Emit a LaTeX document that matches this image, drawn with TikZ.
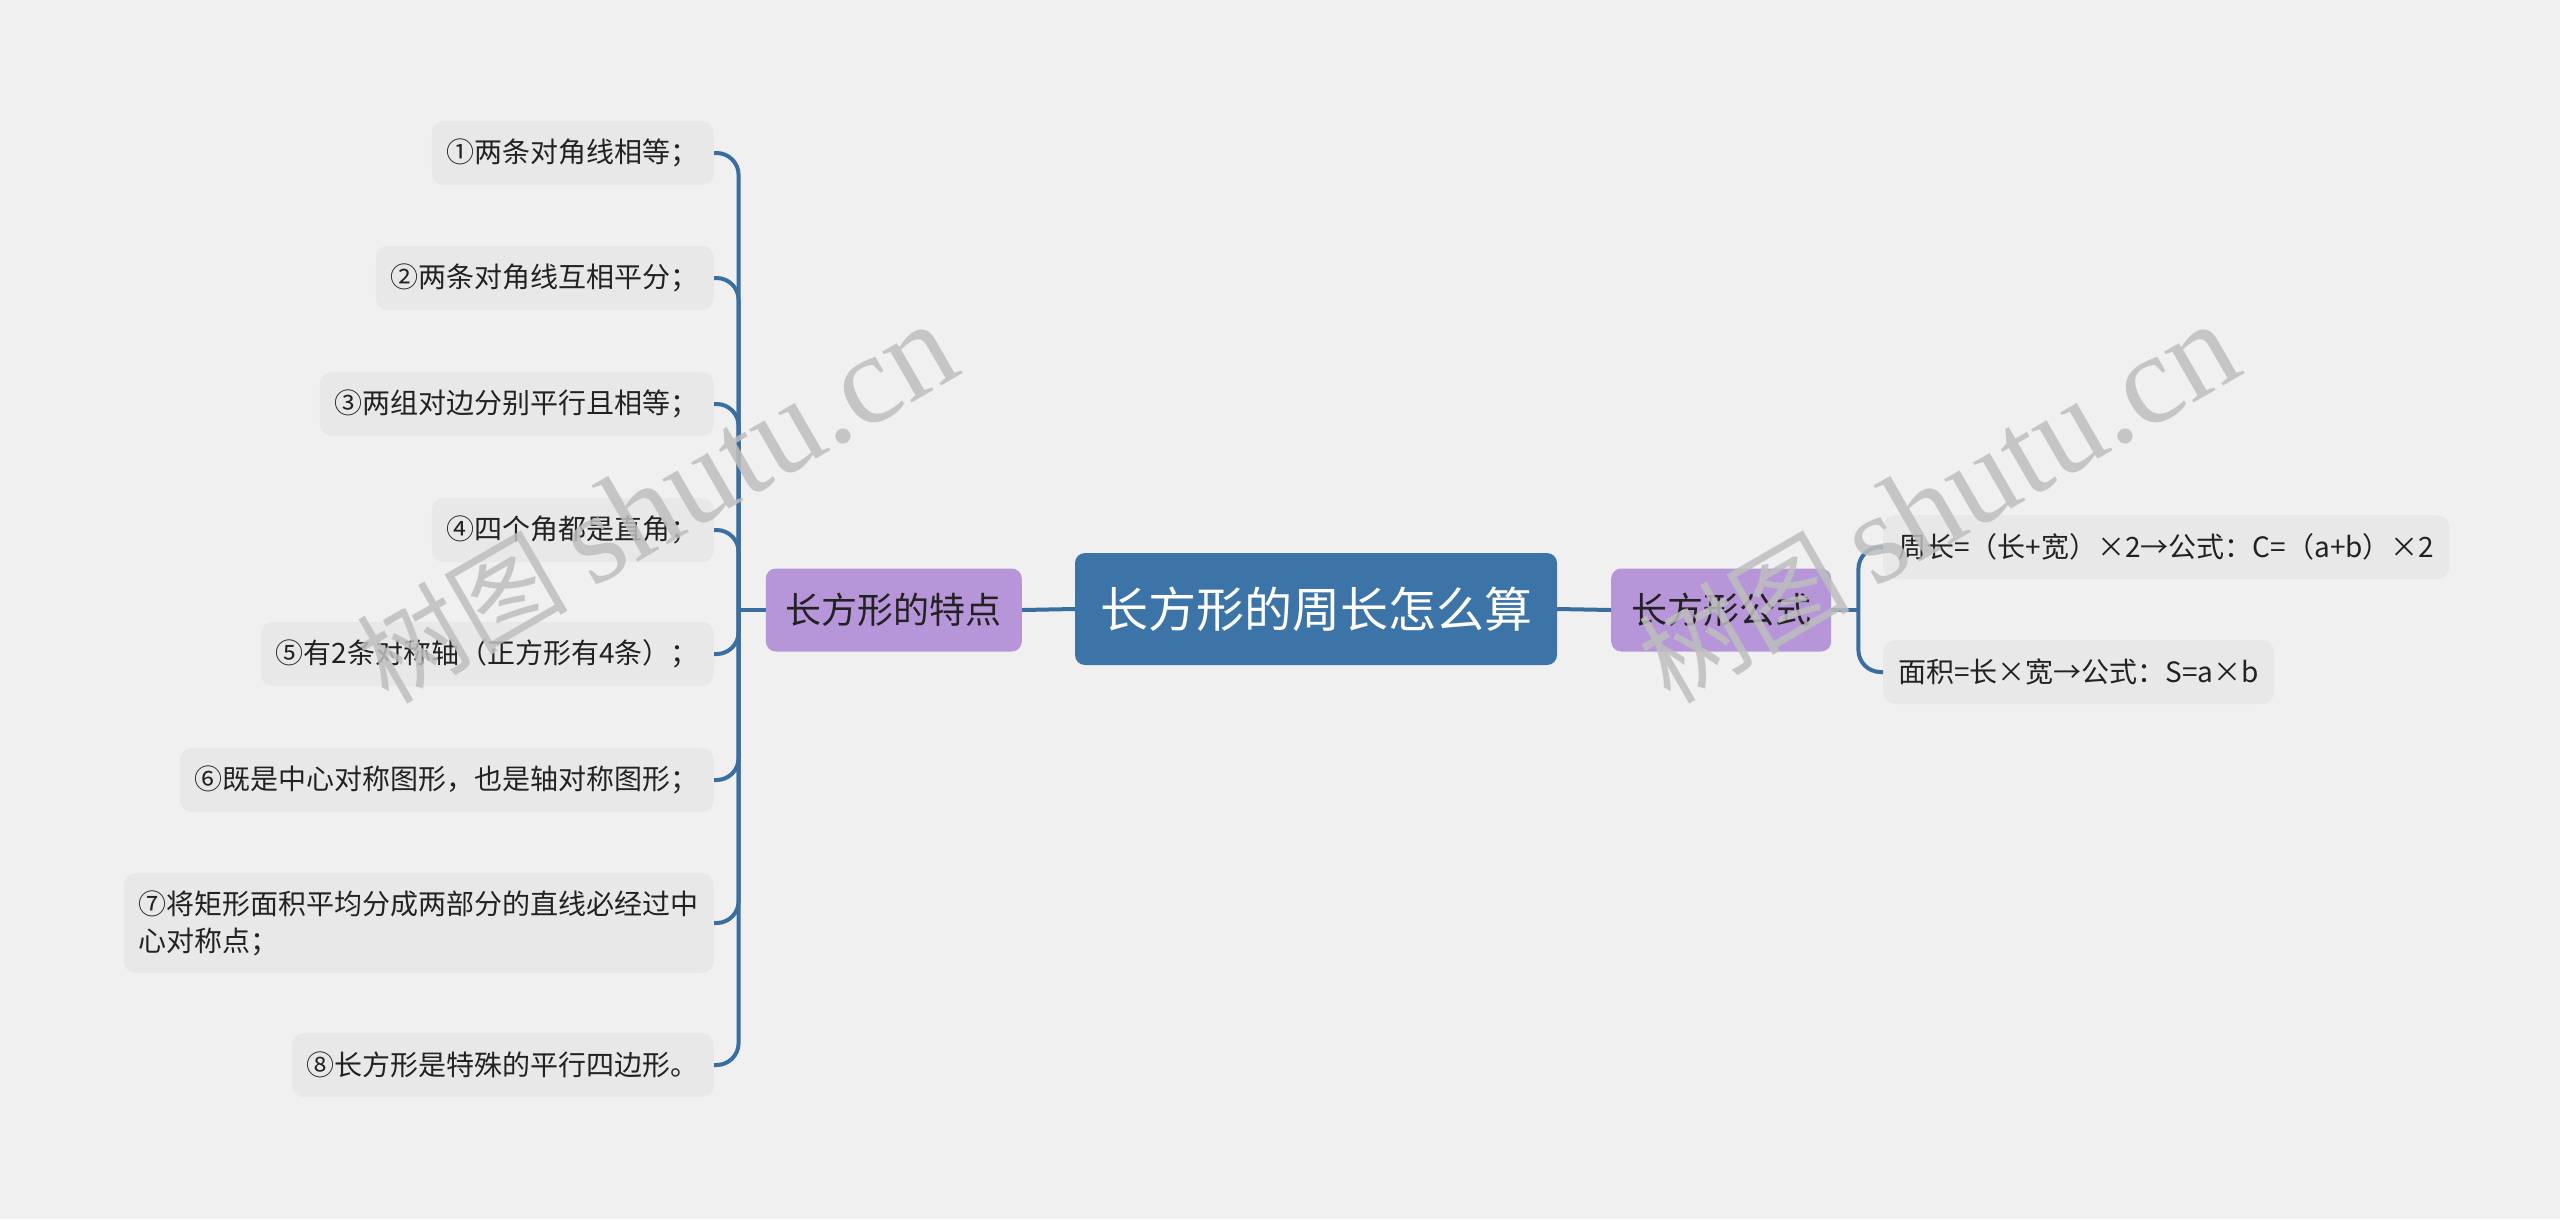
\documentclass[tikz,border=0pt]{standalone}
\usepackage{fontspec}
\setmainfont{Noto Sans CJK SC}
\newfontfamily\wmlatin{Liberation Serif}
\usetikzlibrary{positioning}

\definecolor{bgcol}{HTML}{F0F0F0}
\definecolor{linecol}{HTML}{3A6EA0}
\definecolor{rootcol}{HTML}{3D74A7}
\definecolor{topiccol}{HTML}{B696D8}
\definecolor{leafcol}{HTML}{E8E8E8}
\definecolor{textcol}{HTML}{222222}
\definecolor{wmcol}{HTML}{BEBEBE}

\begin{document}
\begin{tikzpicture}[x=1pt,y=-1pt,inner sep=0pt,
  trunk/.style={draw=linecol,line width=4pt},
  rootbox/.style={fill=rootcol,rounded corners=10pt,text=white,
    font=\fontsize{48}{56}\selectfont,minimum height=112pt,inner xsep=25pt},
  topicbox/.style={fill=topiccol,rounded corners=10pt,text=textcol,
    font=\fontsize{36}{42}\selectfont,minimum height=83pt,inner xsep=20pt},
  leafbox/.style={fill=leafcol,rounded corners=12pt,text=textcol,
    font=\fontsize{28}{37}\selectfont,minimum height=64pt,inner xsep=15pt},
  wmark/.style={text=wmcol,text opacity=0.85,rotate=30,anchor=base west,
    font=\fontsize{106}{112}\selectfont}]

\fill[bgcol] (0,0) rectangle (2560,1219);
\useasboundingbox (0,0) rectangle (2560,1219);

\node[rootbox] (root) at (1316,609) {长方形的周长怎么算};
\node[topicbox,anchor=east] (feat) at (1022,610) {长方形的特点};
\node[topicbox,anchor=west] (form) at (1611,610) {长方形公式};

\node[leafbox,anchor=east] (f1) at (714,153) {①两条对角线相等；};
\node[leafbox,anchor=east] (f2) at (714,278) {②两条对角线互相平分；};
\node[leafbox,anchor=east] (f3) at (714,404) {③两组对边分别平行且相等；};
\node[leafbox,anchor=east] (f4) at (714,530) {④四个角都是直角；};
\node[leafbox,anchor=east] (f5) at (714,654) {⑤有2条对称轴（正方形有4条）；};
\node[leafbox,anchor=east] (f6) at (714,780) {⑥既是中心对称图形，也是轴对称图形；};
\node[leafbox,anchor=east,align=left,minimum height=100pt] (f7) at (714,923)
  {⑦将矩形面积平均分成两部分的直线必经过中\\心对称点；};
\node[leafbox,anchor=east] (f8) at (714,1065) {⑧长方形是特殊的平行四边形。};

\node[leafbox,anchor=west] (p1) at (1883,547) {周长=（长+宽）×2→公式：C=（a+b）×2};
\node[leafbox,anchor=west] (p2) at (1883,672) {面积=长×宽→公式：S=a×b};

\draw[trunk] (feat.east) -- (root.west);
\draw[trunk] (root.east) -- (form.west);

\draw[trunk] (feat.west) -- ++(-27,0) coordinate (lt);
\draw[trunk,rounded corners=22pt] (f1.east) -| (lt);
\draw[trunk,rounded corners=22pt] (f2.east) -| (lt);
\draw[trunk,rounded corners=22pt] (f3.east) -| (lt);
\draw[trunk,rounded corners=22pt] (f4.east) -| (lt);
\draw[trunk,rounded corners=22pt] (f5.east) -| (lt);
\draw[trunk,rounded corners=22pt] (f6.east) -| (lt);
\draw[trunk,rounded corners=22pt] (f7.east) -| (lt);
\draw[trunk,rounded corners=22pt] (f8.east) -| (lt);

\draw[trunk] (form.east) -- ++(27,0) coordinate (rt);
\draw[trunk,rounded corners=22pt] (p1.west) -| (rt);
\draw[trunk,rounded corners=22pt] (p2.west) -| (rt);

\node[wmark] (wm1) at (388,706) {树图 {\wmlatin\fontsize{128}{134}\selectfont shutu.cn}};
\node[wmark] (wm2) at (1670,706) {树图 {\wmlatin\fontsize{128}{134}\selectfont shutu.cn}};

\end{tikzpicture}
\end{document}
